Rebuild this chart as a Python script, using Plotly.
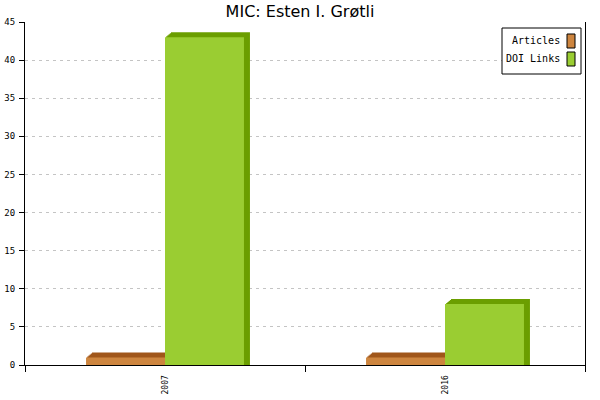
import plotly.graph_objects as go

# ---- data ----
categories = ["2007", "2016"]
series_names = ["Articles", "DOI Links"]
articles = [1, 1]
doi_links = [43, 8]
y_ticks = [0, 5, 10, 15, 20, 25, 30, 35, 40, 45]

# ---- style ----
front_colors = ["#CD853F", "#9ACD32"]
depth_colors = ["#A0561A", "#6B9E00"]
W, H = 600, 400
ML, MR, MT, MB = 25, 15, 22, 35
plot_w = W - ML - MR
plot_h = H - MT - MB
x_range = [-0.5, len(categories) - 0.5]
y_range = [0, 45]
bar_w = 0.282
dx = 6 * (x_range[1] - x_range[0]) / plot_w   # depth in data units (6 px)
dy = 5 * (y_range[1] - y_range[0]) / plot_h   # depth in data units (5 px)
steps = 5

xpos = list(range(len(categories)))
values = [articles, doi_links]
offsets = [-bar_w, 0.0]

fig = go.Figure()
for name, vals, off, fc, dc in zip(series_names, values, offsets, front_colors, depth_colors):
    # depth (top + side faces), drawn as a small staircase for the bevelled corner
    for k in range(steps, 0, -1):
        f = k / steps
        fig.add_trace(go.Bar(
            x=xpos, y=[v + dy * f for v in vals], base=0, width=bar_w,
            offset=off + dx * f,
            marker=dict(color=dc, line=dict(width=0)), showlegend=False,
            hoverinfo="skip"))
    # front face
    fig.add_trace(go.Bar(
        x=xpos, y=vals, width=bar_w, offset=off, name=name,
        marker=dict(color=fc, line=dict(width=0)), showlegend=False))

fig.update_layout(
    width=W, height=H, barmode="overlay",
    margin=dict(l=ML, r=MR, t=MT, b=MB, autoexpand=False),
    paper_bgcolor="white", plot_bgcolor="white",
    title=dict(text="MIC: Esten I. Grøtli", x=0.5, xanchor="center",
               y=1 - 11 / H, yanchor="middle", yref="container",
               font=dict(family="DejaVu Sans", size=16, color="black")),
    xaxis=dict(range=x_range, tickvals=xpos, ticktext=categories, tickangle=-90,
               ticks="", showgrid=False, zeroline=False, automargin=False,
               showline=True, linecolor="black", linewidth=1,
               tickfont=dict(family="DejaVu Sans Mono", size=8, color="black"),
               ticklabelstandoff=6,
               minor=dict(tickvals=[-0.5, 0.5, 1.5], ticks="outside", ticklen=6,
                          tickcolor="black", tickwidth=1, showgrid=False)),
    yaxis=dict(range=y_range, tickvals=y_ticks, ticks="outside", ticklen=5,
               tickcolor="black", showline=True, mirror=True, linecolor="black",
               linewidth=1, zeroline=False, showgrid=True, gridcolor="#c4c4c4",
               griddash="3px,4px", gridwidth=1, automargin=False,
               ticklabelstandoff=2,
               tickfont=dict(family="DejaVu Sans Mono", size=9, color="black")),
)

# ---- legend (text on left, swatch on right, boxed) ----
lx0, lx1, ly0, ly1 = 502, 581, 28, 74
fig.add_shape(type="rect", xref="paper", yref="paper",
              x0=(lx0 - ML) / plot_w, x1=(lx1 - ML) / plot_w,
              y0=1 - (ly0 - MT) / plot_h, y1=1 - (ly1 - MT) / plot_h,
              line=dict(color="black", width=1), fillcolor="white", layer="above")
for i, (name, col) in enumerate(zip(series_names, front_colors)):
    cy = 41 + i * 18
    fig.add_shape(type="rect", xref="paper", yref="paper",
                  x0=(567 - ML) / plot_w, x1=(575 - ML) / plot_w,
                  y0=1 - (cy - 7 - MT) / plot_h, y1=1 - (cy + 7 - MT) / plot_h,
                  line=dict(color="black", width=1), fillcolor=col, layer="above")
    fig.add_annotation(text=name, xref="paper", yref="paper",
                       x=(562 - ML) / plot_w, y=1 - (cy - MT) / plot_h,
                       xanchor="right", yanchor="middle", showarrow=False,
                       font=dict(family="DejaVu Sans Mono", size=10, color="black"))

fig.write_html("out.html", config={"displayModeBar": False},
               post_script="document.body.style.margin='0';document.body.style.overflow='hidden';")
